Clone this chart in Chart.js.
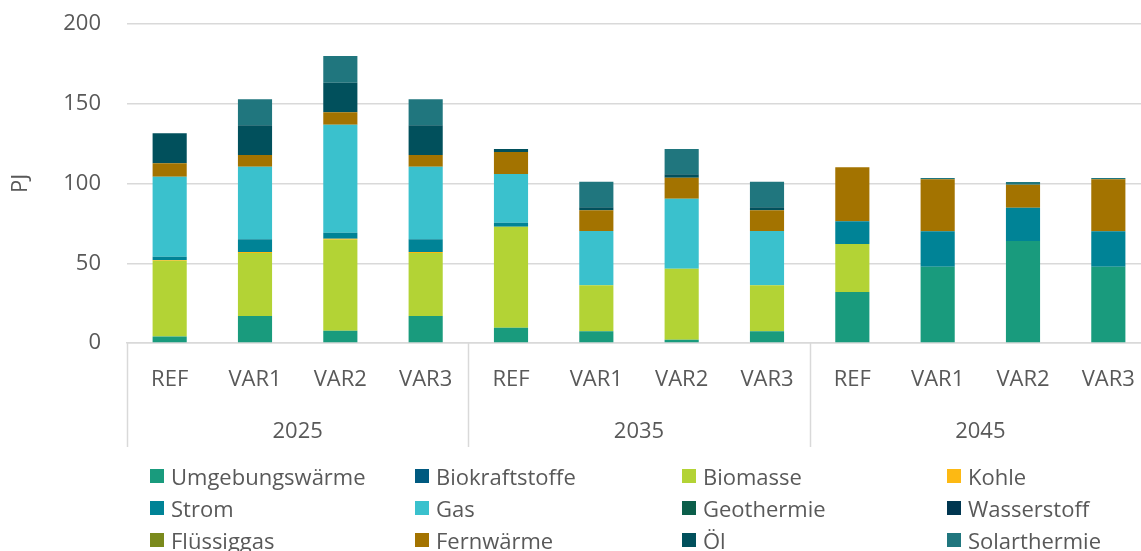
<!DOCTYPE html>
<html>
<head>
<meta charset="utf-8">
<script src="https://cdn.jsdelivr.net/npm/chart.js@4"></script>
<style>
  body { margin: 0; background: #fff; font-family: "Open Sans", sans-serif; overflow: hidden; }
  #wrap { position: relative; width: 1141px; height: 551px; }
  #legend { position: absolute; left: 0; top: 460px; width: 1141px; }
  .item { position: absolute; height: 32px; line-height: 32px; font-size: 22px; color: #595959; white-space: nowrap; }
  .box { position: absolute; width: 14px; height: 14px; top: 9px; left: 0; }
  .item span.t { position: absolute; left: 21px; top: 0; }
</style>
</head>
<body>
<div id="wrap">
  <canvas id="chart" width="1141" height="551"></canvas>
  <div id="legend"></div>
</div>
<script>
const years = ["2025", "2035", "2045"];
const scenarios = ["REF", "VAR1", "VAR2", "VAR3"];

const carriers = ["Umgebungswärme", "Biokraftstoffe", "Biomasse", "Kohle", "Strom", "Gas",
  "Geothermie", "Wasserstoff", "Flüssiggas", "Fernwärme", "Öl", "Solarthermie"];
const colors = ["#199b7d", "#005a80", "#b3d335", "#fdb913", "#008396", "#3ac1cd",
  "#0b5e4a", "#003650", "#7a8a1c", "#a37300", "#01505c", "#20767e"];

// values in PJ: 2025 REF..VAR3, 2035 REF..VAR3, 2045 REF..VAR3
const umgebungswaerme = [4, 17, 7.7, 17, 9.6, 7.3, 2.1, 7.3, 32, 47.8, 64, 47.8];
const biokraftstoffe = [0, 0, 0, 0, 0, 0, 0, 0, 0, 0, 0, 0];
const biomasse = [47.5, 39.5, 57, 39.5, 63.3, 28.9, 44.5, 28.9, 30.1, 0, 0, 0];
const kohle = [0.6, 0.6, 0.6, 0.6, 0, 0, 0, 0, 0, 0, 0, 0];
const strom = [2, 8, 3.9, 8, 2.5, 0, 0, 0, 14.2, 22.2, 20.8, 22.2];
const gas = [50.2, 45.4, 67.7, 45.4, 30.6, 34, 43.9, 34, 0, 0, 0, 0];
const geothermie = [0, 0, 0, 0, 0, 0, 0, 0, 0, 0, 0, 0];
const wasserstoff = [0, 0, 0, 0, 0, 0, 0, 0, 0, 0, 0, 0];
const fluessiggas = [0, 0, 0, 0, 0, 0, 0, 0, 0, 0, 0, 0];
const fernwaerme = [8.4, 7.4, 7.7, 7.4, 13.7, 13, 13.1, 13, 33.9, 32.6, 14.4, 32.6];
const oel = [18.8, 18.6, 18.6, 18.6, 1.9, 1.9, 2.2, 1.9, 0, 0, 0, 0];
const solarthermie = [0, 16.3, 16.7, 16.3, 0, 16, 15.8, 16, 0, 0.8, 1.7, 0.8];

const series = [umgebungswaerme, biokraftstoffe, biomasse, kohle, strom, gas,
  geothermie, wasserstoff, fluessiggas, fernwaerme, oel, solarthermie];

const labels = [];
years.forEach(() => scenarios.forEach(s => labels.push(s)));

const textColor = "#595959";
const gridColor = "#d9d9d9";
const font = { family: "Open Sans", size: 22 };

// the plot area runs a bit past the right edge in the original
const widen = {
  id: "widen",
  afterLayout(chart) {
    const extra = 10;
    const x = chart.scales.x;
    x.right += extra;
    x.width += extra;
    x.configure();
    chart.chartArea.right += extra;
    chart.chartArea.width += extra;
  }
};

// year labels and separators under the scenario labels
const groupAxis = {
  id: "groupAxis",
  afterDraw(chart) {
    const ctx = chart.ctx;
    const x = chart.scales.x;
    const top = chart.chartArea.bottom;
    const half = (x.getPixelForValue(1) - x.getPixelForValue(0)) / 2;
    ctx.save();
    ctx.strokeStyle = gridColor;
    ctx.lineWidth = 1.5;
    ctx.fillStyle = textColor;
    ctx.font = "22px 'Open Sans'";
    ctx.textAlign = "center";
    ctx.textBaseline = "middle";
    const n = scenarios.length;
    years.forEach((y, g) => {
      const first = x.getPixelForValue(g * n);
      const last = x.getPixelForValue(g * n + n - 1);
      ctx.fillText(y, (first + last) / 2, 432);
      const sep = first - half;
      ctx.beginPath();
      ctx.moveTo(Math.round(sep) + 0.5, top);
      ctx.lineTo(Math.round(sep) + 0.5, 447);
      ctx.stroke();
    });
    ctx.restore();
  }
};

new Chart(document.getElementById("chart"), {
  type: "bar",
  data: {
    labels: labels,
    datasets: carriers.map((c, i) => ({
      label: c,
      data: series[i],
      backgroundColor: colors[i],
      borderWidth: 0,
      barPercentage: 0.4,
      categoryPercentage: 1
    }))
  },
  options: {
    responsive: false,
    animation: false,
    layout: { padding: { top: 24, right: 0, bottom: 103, left: 0 } },
    plugins: { legend: { display: false }, tooltip: { enabled: false } },
    scales: {
      x: {
        stacked: true,
        grid: { display: true, color: "rgba(0,0,0,0)", drawTicks: true, tickLength: 24, tickColor: "rgba(0,0,0,0)" },
        border: { display: true, color: gridColor, width: 1.5 },
        ticks: { color: textColor, font: font, padding: 0, maxRotation: 0, autoSkip: false },
        afterFit: s => { s.height = 105; }
      },
      y: {
        stacked: true,
        min: 0,
        max: 200,
        ticks: { stepSize: 50, color: textColor, font: font, padding: 0 },
        grid: { color: gridColor, lineWidth: 1.5, drawTicks: true, tickLength: 26, tickColor: "rgba(0,0,0,0)" },
        border: { display: false },
        title: { display: true, text: "PJ", color: textColor, font: font, padding: { top: 8, bottom: 0 } },
        afterFit: s => { s.width = 127; }
      }
    }
  },
  plugins: [widen, groupAxis]
});

// legend in 4 columns, 3 rows
const legend = document.getElementById("legend");
const colX = [150, 415, 682, 947];
carriers.forEach((c, i) => {
  const item = document.createElement("div");
  item.className = "item";
  item.style.left = colX[i % 4] + "px";
  item.style.top = (Math.floor(i / 4) * 32) + "px";
  item.innerHTML = '<div class="box" style="background:' + colors[i] + '"></div><span class="t">' + c + '</span>';
  legend.appendChild(item);
});
</script>
</body>
</html>
